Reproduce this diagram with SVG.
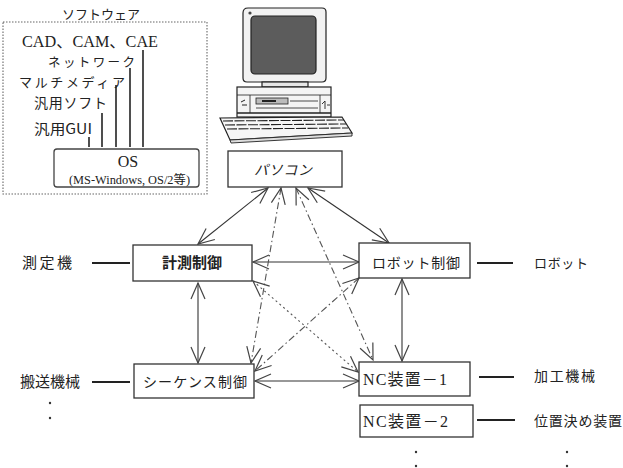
<svg xmlns="http://www.w3.org/2000/svg" width="623" height="468" viewBox="0 0 623 468">
  <style>
    .jp { font-family: "Noto Sans CJK JP", "Noto Sans", sans-serif; fill: #222; }
    .sr { font-family: "Liberation Serif", "Noto Sans CJK JP", serif; fill: #222; }
    .box { fill: #fff; stroke: #333; stroke-width: 1.3; }
    .tie { stroke: #222; stroke-width: 2; }
    .stem { stroke: #222; stroke-width: 1.6; }
    .c { fill: none; stroke: #333; stroke-width: 1.1; }
    .dd { stroke-dasharray: 7 3 1.5 3; stroke: #555; }
    .dt { stroke-dasharray: 2 3; stroke: #555; }
  </style>
  <defs>
    <marker id="ah" viewBox="-18 -9 20 18" refX="0" refY="0" markerWidth="20" markerHeight="18" markerUnits="userSpaceOnUse" orient="auto-start-reverse">
      <path d="M-16,-7 L0,0 L-16,7" fill="none" stroke="#444" stroke-width="1.2"/>
    </marker>
  </defs>
  <rect width="623" height="468" fill="#fff"/>

  <!-- software stack panel -->
  <g id="software">
    <rect x="3" y="22" width="204" height="172" fill="none" stroke="#666" stroke-width="1.1" stroke-dasharray="1.5 1.5"/>
    <text class="jp" x="101" y="19" font-size="13" text-anchor="middle" textLength="78" lengthAdjust="spacing">ソフトウェア</text>
    <text class="sr" x="22" y="47" font-size="16" textLength="136" lengthAdjust="spacingAndGlyphs">CAD、CAM、CAE</text>
    <text class="jp" x="48" y="67" font-size="12.5" textLength="87" lengthAdjust="spacing">ネットワーク</text>
    <text class="jp" x="19" y="87" font-size="13" textLength="106" lengthAdjust="spacing">マルチメディア</text>
    <text class="jp" x="34" y="108" font-size="14" textLength="73" lengthAdjust="spacing">汎用ソフト</text>
    <text class="jp" x="34" y="134" font-size="14" textLength="58" lengthAdjust="spacingAndGlyphs">汎用GUI</text>
    <line class="stem" x1="89" y1="137" x2="89" y2="147"/>
    <line class="stem" x1="102" y1="113" x2="102" y2="147"/>
    <line class="stem" x1="116" y1="85" x2="116" y2="147"/>
    <line class="stem" x1="130" y1="68" x2="130" y2="147"/>
    <line class="stem" x1="143" y1="50" x2="143" y2="147"/>
    <rect x="54" y="149" width="145" height="38" rx="3" fill="#fff" stroke="#444" stroke-width="1.3"/>
    <text class="sr" x="128" y="167" font-size="16" text-anchor="middle">OS</text>
    <text class="sr" x="69" y="184" font-size="12" textLength="121" lengthAdjust="spacingAndGlyphs">(MS-Windows, OS/2等)</text>
  </g>

  <!-- personal computer illustration -->
  <g id="computer" stroke="#222" stroke-width="1.2">
    <path d="M248,8 L322,8 Q326,8 326,12 L326,78 Q326,82 322,82 L247,82 Q243,82 243,78 L243,13 Q243,8 248,8 Z" fill="#f2f2f2"/>
    <rect x="251" y="16" width="65" height="58" rx="4" fill="#5c5c5c"/>
    <circle cx="250" cy="13" r="1.6" fill="#444" stroke="none"/>
    <rect x="262" y="82" width="46" height="5" fill="#e6e6e6"/>
    <rect x="237" y="87" width="94" height="30" fill="#f4f4f4"/>
    <line x1="237" y1="95" x2="331" y2="95" stroke-width="0.8"/>
    <line x1="237" y1="113" x2="331" y2="113" stroke-width="1.6"/>
    <rect x="256" y="98" width="32" height="6" fill="#bbb" stroke-width="0.8"/>
    <rect x="262" y="100" width="14" height="2" fill="#222" stroke="none"/>
    <line x1="290" y1="101" x2="318" y2="101" stroke-width="0.8"/>
    <line x1="256" y1="108" x2="318" y2="108" stroke-width="0.8"/>
    <line x1="250" y1="95" x2="250" y2="113" stroke-width="0.8"/>
    <line x1="320" y1="95" x2="320" y2="113" stroke-width="0.8"/>
    <path d="M241,102 l4,-2 M242,105 l5,0" stroke-width="1"/>
    <path d="M322,104 l3,-3 l0,8 M327,105 l3,0" stroke-width="0.9" fill="none"/>
    <path d="M220,118 L342,117 L352,133 L230,140 Z" fill="#f6f6f6"/>
    <path d="M223,121 L344,120 M225,125 L346,124 M227,129 L348,128" stroke-width="1.1" stroke-dasharray="10 1.5"/>
    <path d="M230,140 L352,133 L352,136 L231,143 Z" fill="#ddd" stroke-width="0.9"/>
  </g>

  <!-- connectors -->
  <g id="connectors">
    <line class="c" x1="253" y1="262" x2="359" y2="262" marker-start="url(#ah)" marker-end="url(#ah)"/>
    <line class="c" x1="255" y1="381" x2="359" y2="381" marker-start="url(#ah)" marker-end="url(#ah)"/>
    <line class="c" x1="198" y1="283" x2="198" y2="363" marker-start="url(#ah)" marker-end="url(#ah)"/>
    <line class="c" x1="402" y1="279" x2="402" y2="361" marker-start="url(#ah)" marker-end="url(#ah)"/>
    <line class="c" x1="268" y1="188" x2="198" y2="244" marker-start="url(#ah)" marker-end="url(#ah)"/>
    <line class="c" x1="308" y1="188" x2="389" y2="243" marker-start="url(#ah)" marker-end="url(#ah)"/>
    <line class="c dd" x1="281" y1="188" x2="251" y2="363" marker-start="url(#ah)" marker-end="url(#ah)"/>
    <line class="c dd" x1="296" y1="188" x2="373" y2="360" marker-start="url(#ah)" marker-end="url(#ah)"/>
    <line class="c dt" x1="253" y1="281" x2="358" y2="372" marker-start="url(#ah)" marker-end="url(#ah)"/>
    <line class="c dd" x1="359" y1="278" x2="255" y2="371" marker-start="url(#ah)" marker-end="url(#ah)"/>
    <!-- ties to equipment -->
    <line class="tie" x1="92" y1="263" x2="130" y2="263"/>
    <line class="tie" x1="92" y1="382" x2="130" y2="382"/>
    <line class="tie" x1="477" y1="263" x2="513" y2="263"/>
    <line class="tie" x1="479" y1="377" x2="514" y2="377"/>
    <line class="tie" x1="477" y1="420" x2="515" y2="420"/>
  </g>

  <g id="pc">
    <rect class="box" x="228" y="151" width="114" height="36"/>
    <text class="jp" x="283" y="175" font-size="14" text-anchor="middle" textLength="58" lengthAdjust="spacing" font-style="italic">パソコン</text>
  </g>
  <g id="measure-ctrl">
    <rect class="box" x="133" y="245" width="119" height="36"/>
    <text class="jp" x="192" y="268" font-size="15" text-anchor="middle" font-weight="bold">計測制御</text>
  </g>
  <g id="robot-ctrl">
    <rect class="box" x="359" y="243" width="111" height="35"/>
    <text class="jp" x="372" y="268" font-size="14" textLength="88" lengthAdjust="spacing">ロボット制御</text>
  </g>
  <g id="sequence-ctrl">
    <rect class="box" x="134" y="364" width="120" height="34"/>
    <text class="jp" x="143" y="387" font-size="14" textLength="104" lengthAdjust="spacing">シーケンス制御</text>
  </g>
  <g id="nc1">
    <rect class="box" x="359" y="362" width="111" height="34"/>
    <text class="sr" x="363" y="385" font-size="16" textLength="84" lengthAdjust="spacing">NC装置－1</text>
  </g>
  <g id="nc2">
    <rect class="box" x="360" y="405" width="113" height="32"/>
    <text class="sr" x="363" y="427" font-size="16" textLength="85" lengthAdjust="spacing">NC装置－2</text>
  </g>

  <!-- equipment labels -->
  <g id="equipment">
    <text class="jp" x="22" y="268" font-size="15" textLength="50" lengthAdjust="spacing">測定機</text>
    <text class="jp" x="20" y="387" font-size="15" textLength="60" lengthAdjust="spacing">搬送機械</text>
    <circle cx="50" cy="403" r="1.2" fill="#333"/>
    <circle cx="50" cy="418" r="1.2" fill="#333"/>
    <text class="jp" x="534" y="268" font-size="13" textLength="54" lengthAdjust="spacing">ロボット</text>
    <text class="jp" x="534" y="381" font-size="14" textLength="61" lengthAdjust="spacing">加工機械</text>
    <text class="jp" x="534" y="426" font-size="14" textLength="88" lengthAdjust="spacing">位置決め装置</text>
    <circle cx="416" cy="452" r="1.2" fill="#333"/>
    <circle cx="416" cy="466" r="1.2" fill="#333"/>
    <circle cx="567" cy="452" r="1.2" fill="#333"/>
    <circle cx="567" cy="466" r="1.2" fill="#333"/>
  </g>
</svg>
